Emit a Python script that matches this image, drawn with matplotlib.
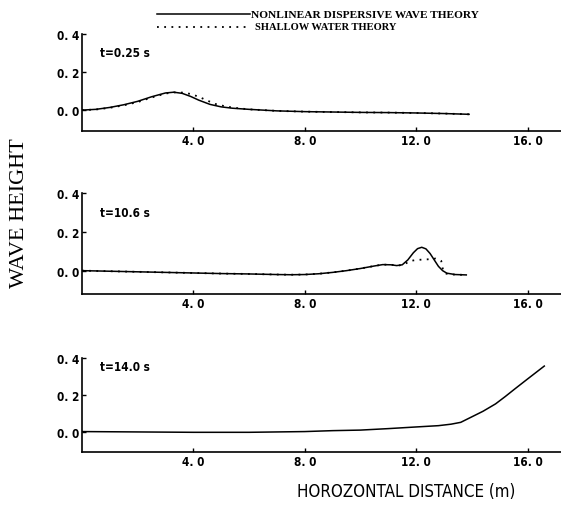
import matplotlib
matplotlib.use("Agg")
import matplotlib.pyplot as plt

# time of each snapshot
times = ["t=0.25 s", "t=10.6 s", "t=14.0 s"]
time_y = [0.30, 0.30, 0.35]

# t=0.25 s
p1_x_nl = [0, 0.5, 1.0, 1.5, 2.0, 2.5, 3.0, 3.3, 3.6, 3.9, 4.2, 4.6, 5.0, 5.4, 6.0, 7.0, 8.0,
           9.0, 10.0, 11.0, 12.0, 13.0, 13.9]
p1_y_nl = [0.0, 0.004, 0.014, 0.028, 0.046, 0.07, 0.09, 0.094, 0.088, 0.072, 0.052, 0.03, 0.017,
           0.01, 0.004, -0.004, -0.008, -0.01, -0.012, -0.013, -0.015, -0.018, -0.022]
p1_x_sw = [0, 0.5, 1.0, 1.5, 2.0, 2.5, 3.0, 3.3, 3.6, 3.9, 4.2, 4.5, 4.8, 5.2, 5.6, 6.0, 7.0,
           8.0, 9.0, 10.0, 11.0, 12.0, 13.0, 13.9]
p1_y_sw = [0.0, 0.003, 0.012, 0.025, 0.042, 0.066, 0.087, 0.093, 0.092, 0.085, 0.07, 0.05,
           0.032, 0.018, 0.01, 0.004, -0.004, -0.008, -0.01, -0.012, -0.013, -0.015, -0.018, -0.022]

# t=10.6 s
p2_x_nl = [0, 1, 2, 3, 4, 5, 6, 7, 7.5, 8, 8.5, 9, 9.5, 10, 10.5, 10.8, 11.1, 11.3, 11.5, 11.7,
           11.9, 12.05, 12.2, 12.35, 12.5, 12.65, 12.8, 12.95, 13.1, 13.4, 13.8]
p2_y_nl = [0.0, -0.003, -0.006, -0.009, -0.012, -0.015, -0.017, -0.02, -0.021, -0.02, -0.016,
           -0.009, 0.0, 0.011, 0.024, 0.031, 0.03, 0.026, 0.03, 0.055, 0.092, 0.113, 0.12,
           0.112, 0.088, 0.055, 0.022, 0.0, -0.013, -0.02, -0.022]
p2_x_sw = [0, 1, 2, 3, 4, 5, 6, 7, 7.5, 8, 8.5, 9, 9.5, 10, 10.5, 10.8, 11.1, 11.4, 11.6, 11.8,
           12.0, 12.4, 12.7, 12.9, 12.97, 13.05, 13.3, 13.8]
p2_y_sw = [0.0, -0.003, -0.006, -0.009, -0.012, -0.015, -0.017, -0.02, -0.021, -0.02, -0.016,
           -0.009, 0.0, 0.011, 0.024, 0.031, 0.03, 0.027, 0.035, 0.05, 0.055, 0.058, 0.062, 0.05,
           0.0, -0.015, -0.02, -0.022]

# t=14.0 s
p3_x_nl = [0, 2, 4, 6, 8, 9, 10, 11, 12, 12.8, 13.25, 13.6, 14.0, 14.4, 14.85, 15.2, 15.55,
           16.0, 16.6]
p3_y_nl = [0.0, -0.002, -0.004, -0.004, 0.0, 0.005, 0.008, 0.016, 0.025, 0.032, 0.04, 0.05,
           0.08, 0.11, 0.15, 0.19, 0.232, 0.285, 0.355]

y_ticks = [0.0, 0.2, 0.4]
y_labels = ["0. 0", "0. 2", "0. 4"]
x_ticks = [4, 8, 12, 16]
x_labels = ["4. 0", "8. 0", "12. 0", "16. 0"]

tick_font = "DejaVu Sans"

fig = plt.figure(figsize=(5.61, 5.06), dpi=100)

boxes = [[0.146, 0.739, 0.854, 0.192],
         [0.146, 0.417, 0.854, 0.200],
         [0.146, 0.105, 0.854, 0.186]]
ylims = [(-0.11, 0.4), (-0.12, 0.4), (-0.11, 0.4)]
curves = [(p1_x_nl, p1_y_nl, p1_x_sw, p1_y_sw),
          (p2_x_nl, p2_y_nl, p2_x_sw, p2_y_sw),
          (p3_x_nl, p3_y_nl, None, None)]

for box, ylim, t, ty, (xn, yn, xs, ys) in zip(boxes, ylims, times, time_y, curves):
    ax = fig.add_axes(box)
    ax.plot(xn, yn, color="black", lw=1.1)
    if xs is not None:
        ax.plot(xs, ys, color="black", lw=1.3, linestyle=(0, (1, 3)))
    ax.set_xlim(0, 17.2)
    ax.set_ylim(*ylim)
    ax.spines["top"].set_visible(False)
    ax.spines["right"].set_visible(False)
    ax.spines["left"].set_linewidth(1.2)
    ax.spines["bottom"].set_linewidth(1.2)
    ax.set_yticks(y_ticks)
    ax.set_yticklabels(y_labels, family=tick_font, fontstretch="condensed",
                       fontweight="bold", fontsize=8.5)
    ax.set_xticks(x_ticks)
    ax.set_xticklabels(x_labels, family=tick_font, fontstretch="condensed",
                       fontweight="bold", fontsize=8.5)
    ax.tick_params(direction="in", length=3, width=1, pad=2)
    ax.text(0.65, ty, t, family=tick_font, fontstretch="condensed", fontweight="bold",
            fontsize=8.5, va="center")

# legend at the top
fig.add_artist(plt.Line2D([157 / 561, 250 / 561], [1 - 15 / 506, 1 - 15 / 506],
                          color="black", lw=1.1))
fig.add_artist(plt.Line2D([157 / 561, 250 / 561], [1 - 28 / 506, 1 - 28 / 506],
                          color="black", lw=1.3, linestyle=(0, (1, 3))))
fig.text(251 / 561, 1 - 15 / 506, "NONLINEAR DISPERSIVE WAVE THEORY", family="Liberation Serif",
         fontsize=8.2, fontweight="bold", va="center", ha="left")
fig.text(255 / 561, 1 - 28 / 506, "SHALLOW WATER THEORY", family="Liberation Serif",
         fontsize=7.6, fontweight="bold", va="center", ha="left")

fig.text(20 / 561, 1 - 213 / 506, "WAVE HEIGHT", family="Liberation Serif", fontsize=16,
         rotation=90, va="center", ha="center")
fig.text(406 / 561, 1 - 492 / 506, "HOROZONTAL DISTANCE (m)", family=tick_font,
         fontstretch="condensed", fontsize=12.2, va="center", ha="center")

fig.savefig("out.png", dpi=100)
